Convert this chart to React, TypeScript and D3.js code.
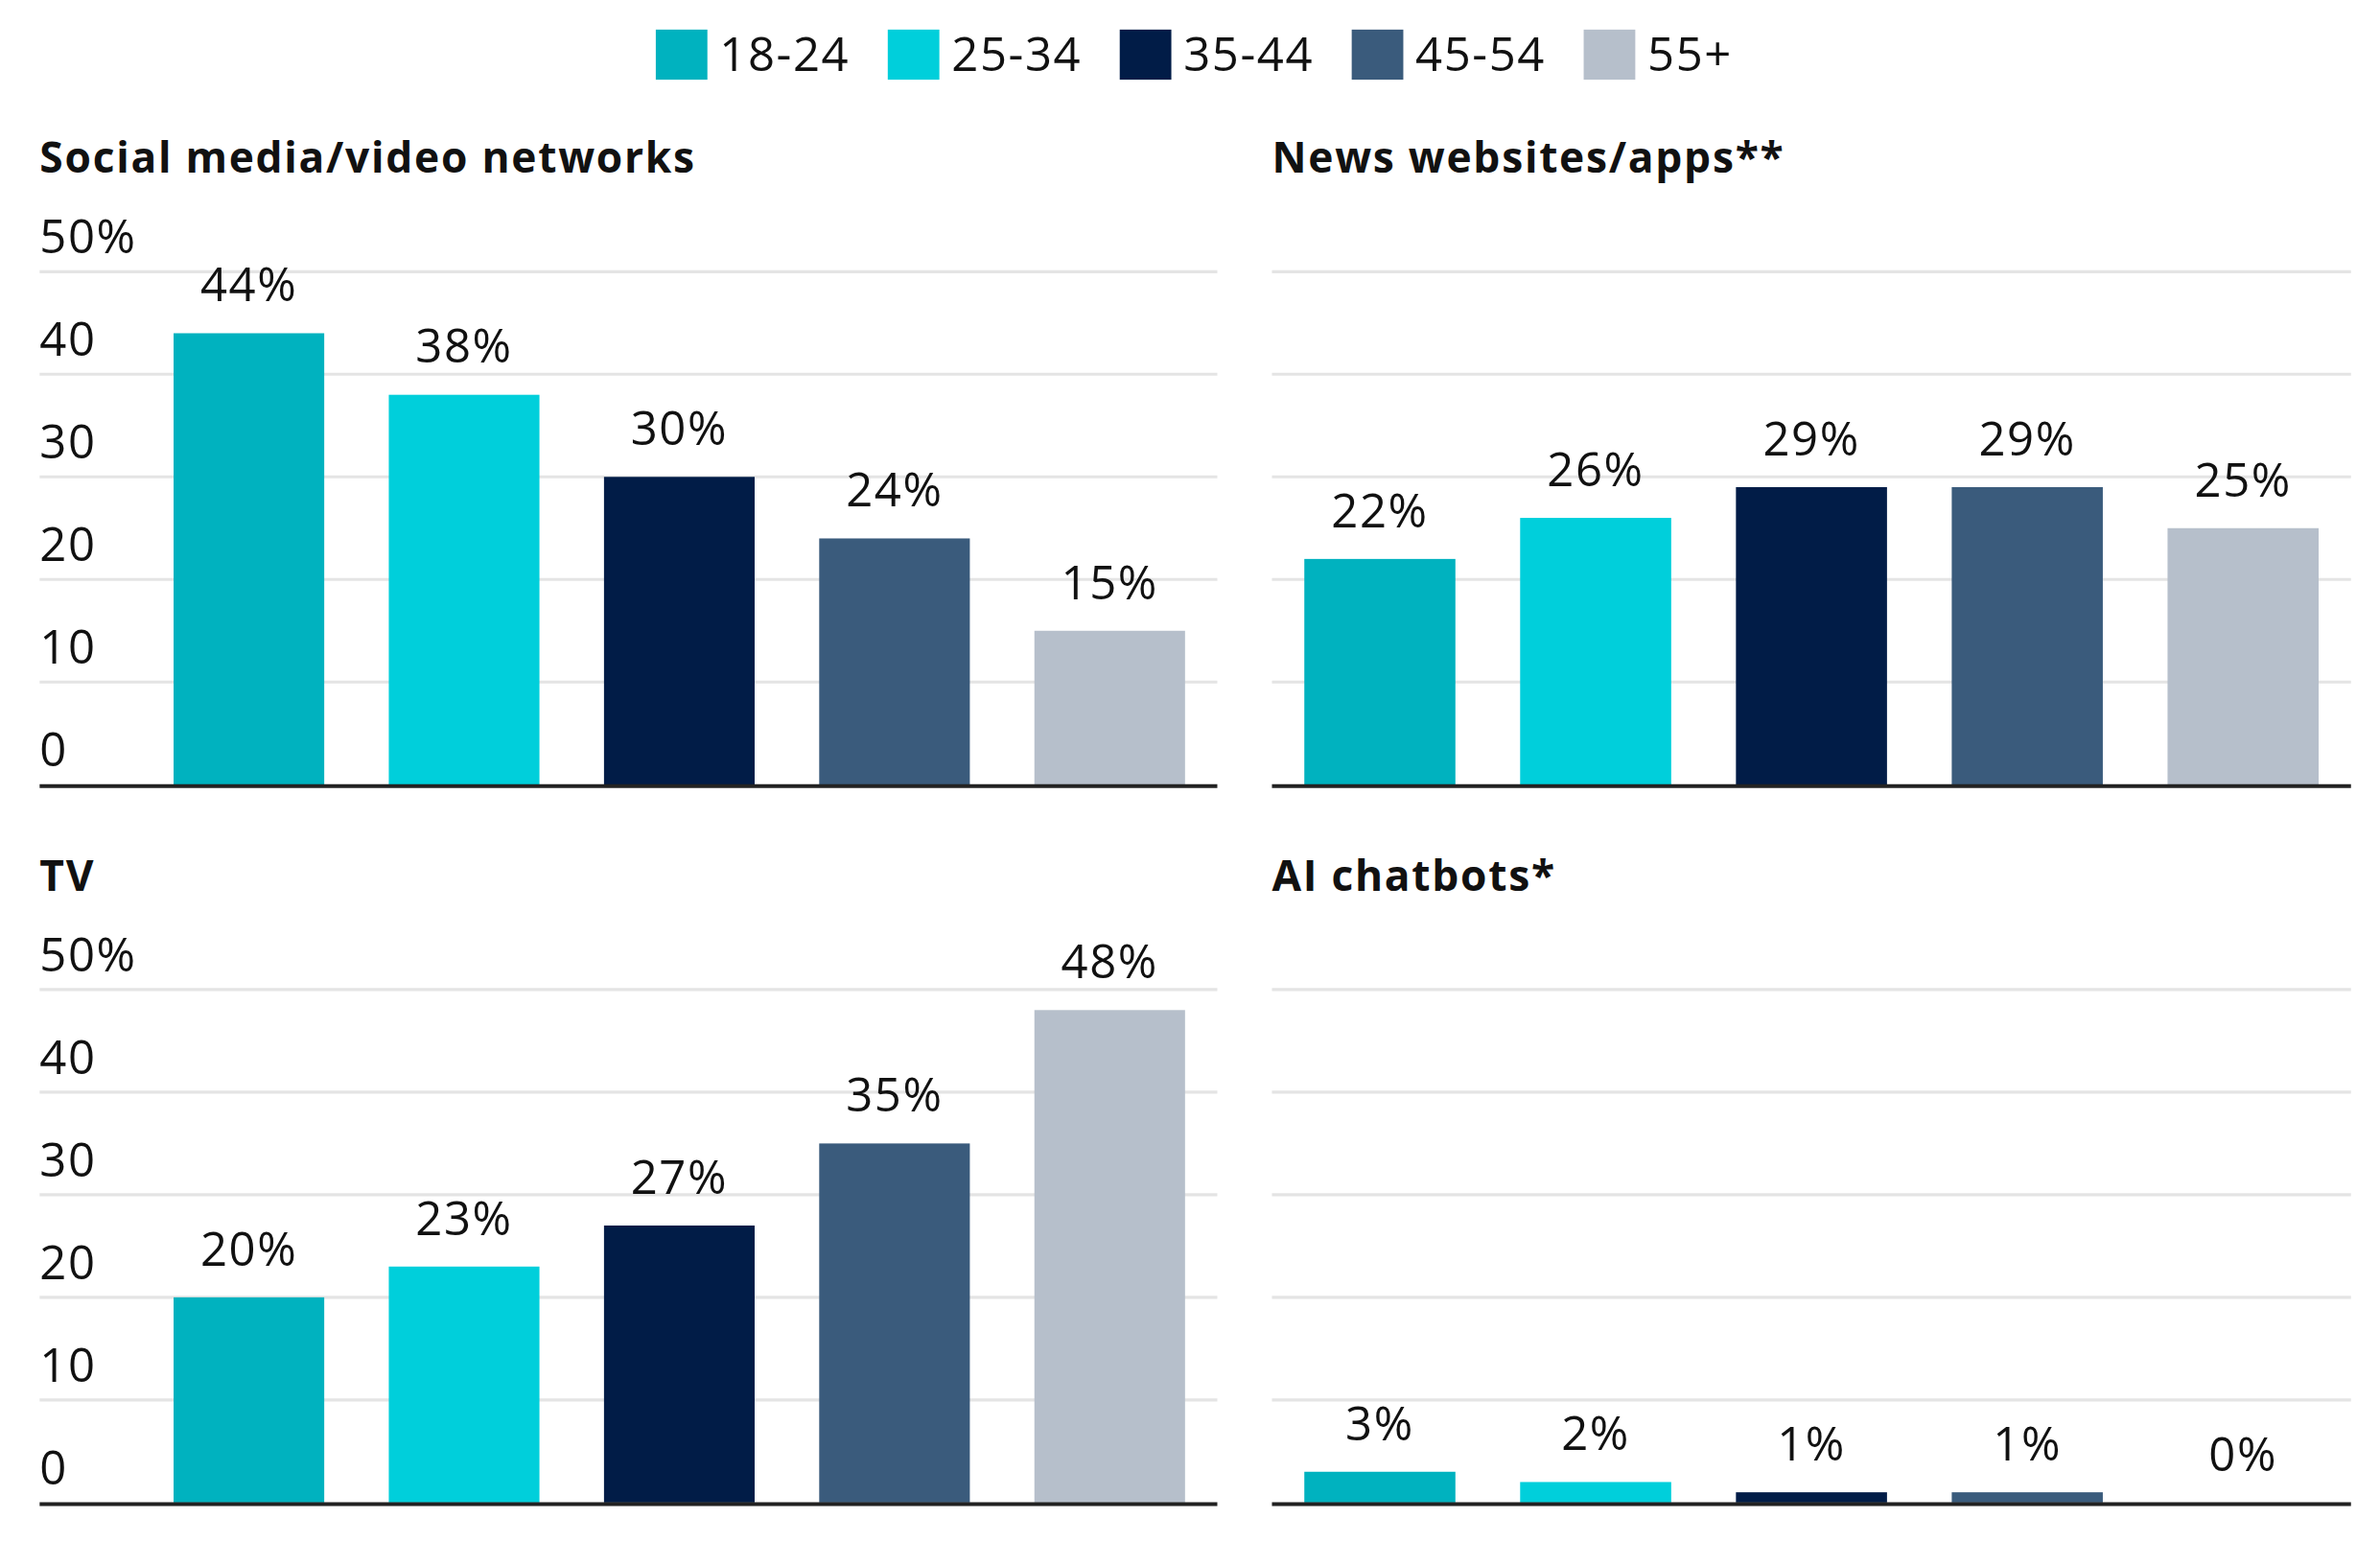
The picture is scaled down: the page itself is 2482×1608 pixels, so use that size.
import React, { useEffect, useRef } from 'react';
import * as d3 from 'd3';

const ageGroups = ['18-24', '25-34', '35-44', '45-54', '55+'];
const groupColors = ['#00b2bf', '#00cfdb', '#011c47', '#3a5b7c', '#b6bfcb'];

const socialValues = [44, 38, 30, 24, 15];
const newsValues = [22, 26, 29, 29, 25];
const tvValues = [20, 23, 27, 35, 48];
const aiValues = [3, 2, 1, 1, 0];

const yTicks = [0, 10, 20, 30, 40, 50];

const panelTitles = ['Social media/video networks', 'News websites/apps**', 'TV', 'AI chatbots*'];

// design space (scaled up to the 2482x1608 window through the viewBox)
const W = 1568;
const H = 1016;
const FONT = '"Open Sans", sans-serif';

const App: React.FC = () => {
  const svgRef = useRef<SVGSVGElement | null>(null);

  useEffect(() => {
    document.body.style.margin = '0';
    const svg = d3.select(svgRef.current);
    svg.selectAll('*').remove();

    // legend
    const legend = svg.append('g').attr('transform', 'translate(432, 0)');
    let lx = 0;
    ageGroups.forEach((g, i) => {
      legend
        .append('rect')
        .attr('x', lx)
        .attr('y', 19.5)
        .attr('width', 34)
        .attr('height', 33)
        .attr('fill', groupColors[i]);
      const t = legend
        .append('text')
        .attr('x', lx + 42)
        .attr('y', 47)
        .attr('font-family', FONT)
        .attr('font-size', 31)
        .attr('letter-spacing', 1)
        .attr('fill', '#111')
        .text(g);
      const w = (t.node() as SVGTextElement).getComputedTextLength();
      lx += 42 + w + 25;
    });

    const panels = [
      { title: panelTitles[0], values: socialValues, left: 26, bandStart: 93, right: 802, top: 0, labels: true },
      { title: panelTitles[1], values: newsValues, left: 838, bandStart: 838, right: 1549, top: 0, labels: false },
      { title: panelTitles[2], values: tvValues, left: 26, bandStart: 93, right: 802, top: 473, labels: true },
      { title: panelTitles[3], values: aiValues, left: 838, bandStart: 838, right: 1549, top: 473, labels: false },
    ];

    panels.forEach((p) => {
      const g = svg.append('g').attr('transform', `translate(0, ${p.top})`);

      const x = d3
        .scaleBand<string>()
        .domain(ageGroups)
        .range([p.bandStart, p.right])
        .paddingInner(0.3)
        .paddingOuter(0.15);
      const y = d3.scaleLinear().domain([0, 50]).range([517, 179]);

      g.append('text')
        .attr('x', p.left)
        .attr('y', 114)
        .attr('font-family', FONT)
        .attr('font-weight', 700)
        .attr('font-size', 28)
        .attr('letter-spacing', 1.1)
        .attr('fill', '#111')
        .text(p.title);

      g.selectAll('.grid')
        .data(yTicks.filter((d) => d > 0))
        .join('line')
        .attr('class', 'grid')
        .attr('x1', p.left)
        .attr('x2', p.right)
        .attr('y1', (d) => y(d))
        .attr('y2', (d) => y(d))
        .attr('stroke', '#e4e4e4')
        .attr('stroke-width', 2);

      if (p.labels) {
        g.selectAll('.ytick')
          .data(yTicks)
          .join('text')
          .attr('class', 'ytick')
          .attr('x', p.left)
          .attr('y', (d) => y(d) - 12)
          .attr('font-family', FONT)
          .attr('font-size', 31)
          .attr('letter-spacing', 1)
          .attr('fill', '#111')
          .text((d) => (d === 50 ? `${d}%` : `${d}`));
      }

      g.selectAll('.bar')
        .data(p.values)
        .join('rect')
        .attr('class', 'bar')
        .attr('x', (_, i) => x(ageGroups[i])!)
        .attr('width', x.bandwidth())
        .attr('y', (d) => y(d))
        .attr('height', (d) => y(0) - y(d))
        .attr('fill', (_, i) => groupColors[i]);

      g.selectAll('.vlabel')
        .data(p.values)
        .join('text')
        .attr('class', 'vlabel')
        .attr('x', (_, i) => x(ageGroups[i])! + x.bandwidth() / 2)
        .attr('y', (d) => y(d) - 21)
        .attr('text-anchor', 'middle')
        .attr('font-family', FONT)
        .attr('font-size', 31)
        .attr('letter-spacing', 1)
        .attr('fill', '#111')
        .text((d) => `${d}%`);

      g.append('line')
        .attr('x1', p.left)
        .attr('x2', p.right)
        .attr('y1', y(0) + 1)
        .attr('y2', y(0) + 1)
        .attr('stroke', '#222')
        .attr('stroke-width', 2.5);
    });
  }, []);

  return (
    <svg
      ref={svgRef}
      width={2482}
      height={1608}
      viewBox={`0 0 ${W} ${H}`}
      style={{ display: 'block', background: '#fff' }}
    />
  );
};

export default App;
